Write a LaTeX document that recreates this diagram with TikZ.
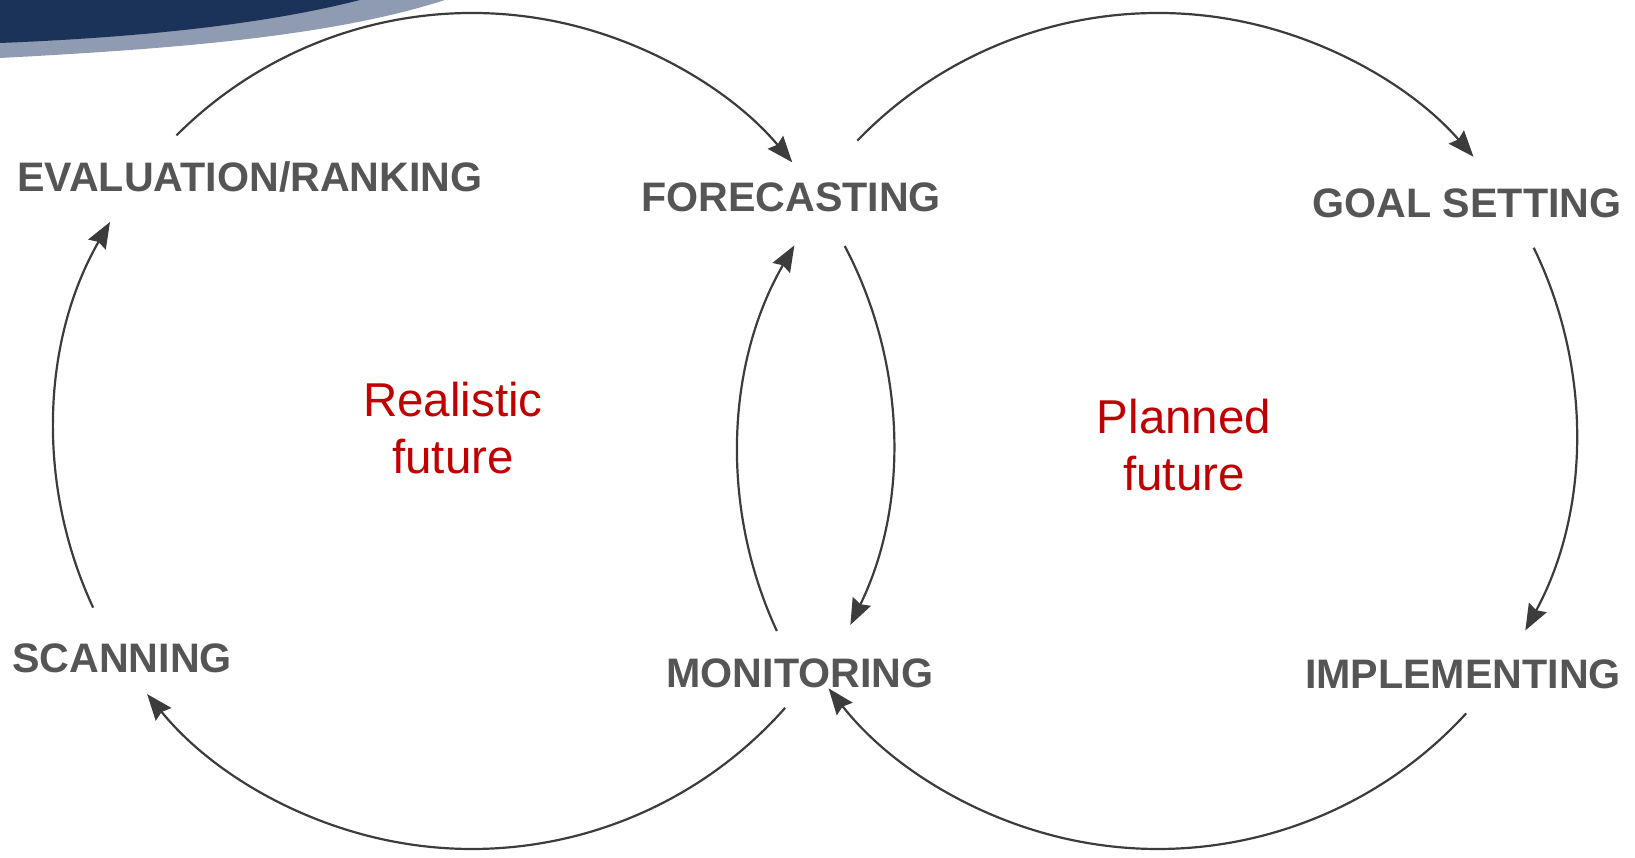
\documentclass[tikz,border=0pt]{standalone}
\usepackage{fontspec}
\setmainfont{Liberation Sans}
\usetikzlibrary{arrows.meta}
\definecolor{navy}{HTML}{1B3358}
\definecolor{bandgrey}{HTML}{8E9BB0}
\definecolor{labelgrey}{HTML}{555555}
\definecolor{futurered}{HTML}{C00000}
\definecolor{linegrey}{HTML}{3C3C3C}
\tikzset{
  stage/.style={inner sep=0pt, anchor=base, text=labelgrey,
    font=\fontsize{41.2}{48}\selectfont\bfseries},
  future/.style={inner sep=0pt, align=center, text=futurered,
    font=\fontsize{47.5}{57}\selectfont},
  flow/.style={draw=linegrey, line width=2.2pt,
    -{Stealth[length=26pt,width=20pt,inset=3pt]}},
}
\begin{document}
\begin{tikzpicture}[x=1pt,y=1pt]
\useasboundingbox (0,0) rectangle (1635,857);
% header swoosh in the top left corner
\fill[bandgrey] (0,857) -- (0,799) .. controls (170,808) and (330,820) .. (445,857) -- cycle;
\fill[navy] (0,857) -- (0,814) .. controls (150,820) and (270,834) .. (360,857) -- cycle;

% centres of the two cycles (the inner arcs sit on slightly shifted circles)
\coordinate (L) at (472,426);
\coordinate (R) at (1158,426);
\coordinate (Li) at (475,416);
\coordinate (Ri) at (1156,402);

% stage labels
\node[stage] (eval) at (250,665) {EVALUATION/RANKING};
\node[stage] (fore) at (791,645) {FORECASTING};
\node[stage] (goal) at (1467,639) {GOAL SETTING};
\node[stage] (scan) at (122,185) {SCANNING};
\node[stage] (moni) at (800,170) {MONITORING};
\node[stage] (impl) at (1463,169) {IMPLEMENTING};

% cycle names
\node[future] (real) at (453,429) {Realistic\\future};
\node[future] (plan) at (1184,412) {Planned\\future};

% realistic cycle
\draw[flow] ([shift={(135:418)}]L) arc[start angle=135, end angle=40, radius=418];
\draw[flow] ([shift={(27.8:418)}]Li) arc[start angle=27.8, end angle=-26.1, radius=418];
\draw[flow] ([shift={(-41.5:418)}]L) arc[start angle=-41.5, end angle=-141, radius=418];
\draw[flow] ([shift={(205:418)}]L) arc[start angle=205, end angle=150, radius=418];

% planned cycle
\draw[flow] ([shift={(136:418)}]R) arc[start angle=136, end angle=41, radius=418];
\draw[flow] ([shift={(26:418)}]R) arc[start angle=26, end angle=-28.5, radius=418];
\draw[flow] ([shift={(-42.5:418)}]R) arc[start angle=-42.5, end angle=-142, radius=418];
\draw[flow] ([shift={(204.9:418)}]Ri) arc[start angle=204.9, end angle=149.9, radius=418];
\end{tikzpicture}
\end{document}
